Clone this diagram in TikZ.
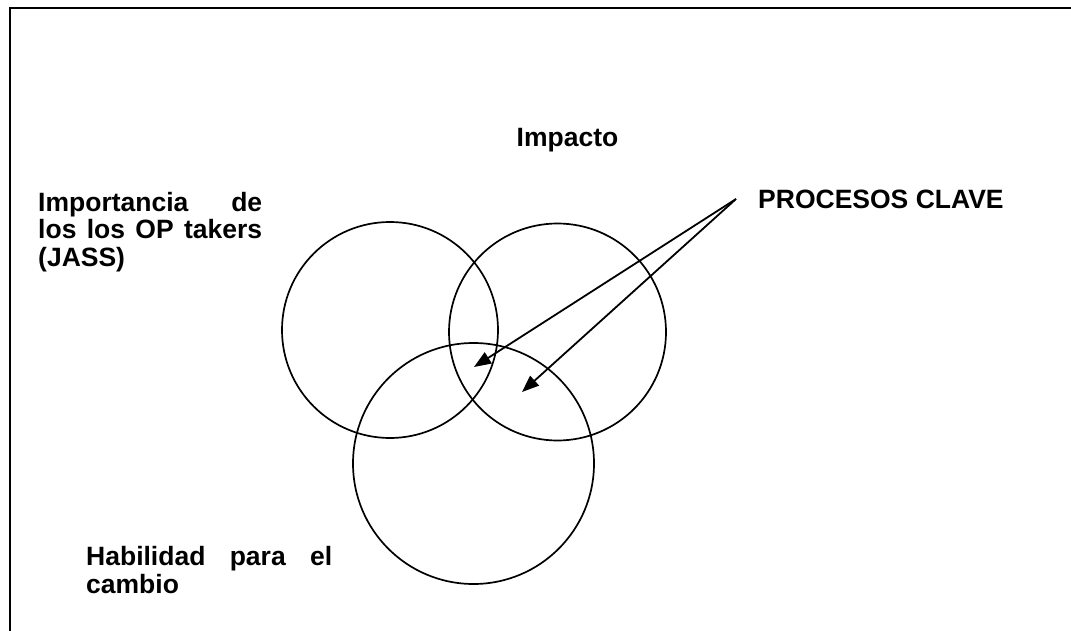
\documentclass[tikz,border=0pt]{standalone}
\usepackage{fontspec}
\setmainfont{Liberation Sans}
\usetikzlibrary{arrows.meta}
\begin{document}
\begin{tikzpicture}[x=1pt,y=-1pt,
  ring/.style={circle,draw,line width=1.7pt,inner sep=0pt},
  lbl/.style={font=\fontsize{26.5}{27.5}\selectfont\bfseries,inner sep=0pt,anchor=base west,align=left},
  pointer/.style={line width=1.8pt,-{Triangle[length=17pt,width=13pt]}}]
\useasboundingbox (0,0) rectangle (1071,631);
\draw[line width=2.2pt] (1071,8) -- (10,8) -- (10,631);
\node[ring,minimum size=216pt] (c1) at (390,330) {};
\node[ring,minimum size=217pt] (c2) at (557.5,332) {};
\node[ring,minimum size=241pt] (c3) at (473.5,463.5) {};
\node[lbl,anchor=base] (imp) at (567.5,147) {Impacto};
\node[lbl] (pc) at (758,209) {PROCESOS CLAVE};
\node[lbl] (jass) at (38,266) {\makebox[224pt][s]{Importancia de}\\\makebox[224pt][s]{los los OP takers}\\(JASS)};
\node[lbl] (hab) at (86,593) {\makebox[246pt][s]{Habilidad para el}\\cambio};
\coordinate (apex) at (736,199);
\coordinate (t1) at (474,367);
\coordinate (t2) at (522,392);
\draw[pointer] (apex) -- (t1);
\draw[pointer] (apex) -- (t2);
\end{tikzpicture}
\end{document}
